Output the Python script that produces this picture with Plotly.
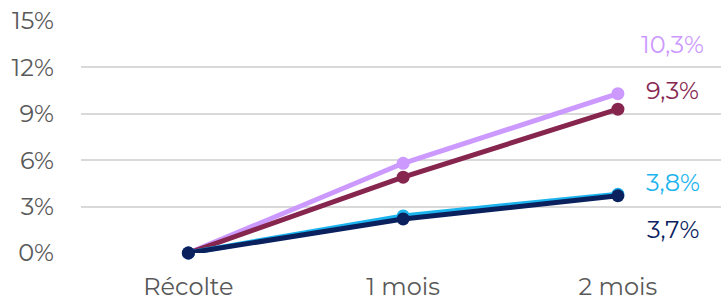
import plotly.graph_objects as go

categories = ["Récolte", "1 mois", "2 mois"]
s_lilas = [0, 5.8, 10.3]
s_bordeaux = [0, 4.9, 9.3]
s_cyan = [0, 2.4, 3.8]
s_marine = [0, 2.2, 3.7]

series = [
    ("lilas", s_lilas, "#CC99FF"),
    ("bordeaux", s_bordeaux, "#86264F"),
    ("cyan", s_cyan, "#1CB4EE"),
    ("marine", s_marine, "#0A215E"),
]

fig = go.Figure()
for name, vals, col in series:
    fig.add_trace(go.Scatter(
        x=categories, y=vals, mode="lines+markers", name=name,
        line=dict(color=col, width=5), marker=dict(color=col, size=13),
        showlegend=False, cliponaxis=False,
    ))

labels = [
    (s_lilas, "#CC99FF", -49),
    (s_bordeaux, "#86264F", -19),
    (s_cyan, "#1CB4EE", -12),
    (s_marine, "#0A215E", 34),
]
for vals, col, dy in labels:
    v = vals[-1]
    fig.add_annotation(
        x=categories[-1], y=v, text=f"{v:.1f}%".replace(".", ","),
        showarrow=False, xshift=55, yshift=-dy,
        font=dict(family="Montserrat, Lato, sans-serif", size=24, color=col),
    )

fig.update_layout(
    width=721, height=301,
    margin=dict(l=81, r=0, t=21, b=48, autoexpand=False),
    paper_bgcolor="white", plot_bgcolor="white",
    font=dict(family="Montserrat, Lato, sans-serif", size=24, color="#595959"),
)
fig.update_xaxes(
    type="category", range=[-0.5, 2.48], showgrid=False, zeroline=False,
    showline=False, ticks="", ticklabelstandoff=17, automargin=False,
)
fig.update_yaxes(
    range=[0, 15], tickvals=[0, 3, 6, 9, 12, 15], ticktext=["0%", "3%", "6%", "9%", "12%", "15%"],
    showgrid=True, gridcolor="#D9D9D9", gridwidth=1.5, zeroline=False,
    showline=False, ticks="", ticklabelstandoff=26, automargin=False,
)

fig.write_html("out.html", config={"displayModeBar": False},
               post_script="document.body.style.margin='0';")
